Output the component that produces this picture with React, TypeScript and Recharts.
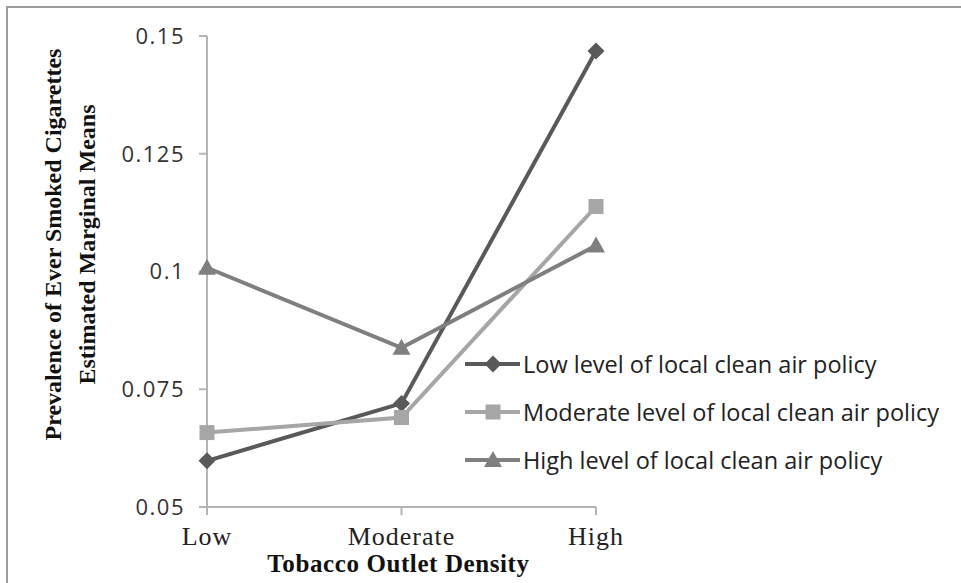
import { LineChart, Line, XAxis, YAxis, Legend, Label } from 'recharts'

const categories = ['Low', 'Moderate', 'High']
const lowPolicy = [0.0598, 0.072, 0.1468]
const moderatePolicy = [0.0658, 0.069, 0.1138]
const highPolicy = [0.1008, 0.0838, 0.1055]
const yTicks = [0.05, 0.075, 0.1, 0.125, 0.15]
const seriesNames = [
  'Low level of local clean air policy',
  'Moderate level of local clean air policy',
  'High level of local clean air policy',
]

const data = categories.map((c, i) => ({
  cat: c,
  low: lowPolicy[i],
  moderate: moderatePolicy[i],
  high: highPolicy[i],
}))

const series = [
  { key: 'low', name: seriesNames[0], color: '#595959', shape: 'diamond' },
  { key: 'moderate', name: seriesNames[1], color: '#a6a6a6', shape: 'square' },
  { key: 'high', name: seriesNames[2], color: '#7f7f7f', shape: 'triangle' },
]

const axisGray = '#b4b4b4'
const sans = '"Open Sans", "DejaVu Sans", sans-serif'
const serif = '"Liberation Serif", "Times New Roman", serif'

function Marker({ shape, cx, cy, color }: { shape: string; cx: number; cy: number; color: string }) {
  if (shape === 'diamond') {
    const r = 8.5
    return <path d={`M${cx},${cy - r}L${cx + r},${cy}L${cx},${cy + r}L${cx - r},${cy}Z`} fill={color} />
  }
  if (shape === 'square') {
    const h = 7.5
    return <rect x={cx - h} y={cy - h} width={h * 2} height={h * 2} fill={color} />
  }
  return <path d={`M${cx},${cy - 9}L${cx + 9},${cy + 7}L${cx - 9},${cy + 7}Z`} fill={color} />
}

const dotFor = (shape: string, color: string) => (props: any) => (
  <Marker key={`${shape}-${props.index}`} shape={shape} cx={props.cx} cy={props.cy} color={color} />
)

function LegendBox({ payload }: any) {
  // keep the series order, not the alphabetical one
  const items = series.filter((s) => (payload || []).some((p: any) => p.value === s.name))
  return (
    <div style={{ fontFamily: sans, fontSize: 23.5, color: '#222' }}>
      {items.map((s) => (
        <div key={s.key} style={{ display: 'flex', alignItems: 'center', height: 48 }}>
          <svg width={60} height={24} style={{ flex: 'none' }}>
            <line x1={2} y1={12} x2={57} y2={12} stroke={s.color} strokeWidth={4} />
            <Marker shape={s.shape} cx={30} cy={12} color={s.color} />
          </svg>
          <span style={{ whiteSpace: 'nowrap' }}>{s.name}</span>
        </div>
      ))}
    </div>
  )
}

function YTitle({ viewBox }: any) {
  const cx = 61
  const cy = viewBox.y + viewBox.height / 2 - 27
  return (
    <text
      transform={`rotate(-90, ${cx}, ${cy})`}
      x={cx}
      y={cy}
      textAnchor="middle"
      fontFamily={serif}
      fontWeight="bold"
      fontSize={24}
      fill="#111"
    >
      <tspan x={cx} y={cy}>Prevalence of Ever Smoked Cigarettes</tspan>
      <tspan x={cx} dy={34}>Estimated Marginal Means</tspan>
    </text>
  )
}

function XTitle({ viewBox }: any) {
  return (
    <text
      x={viewBox.x + viewBox.width / 2 - 3}
      y={viewBox.y + 65}
      textAnchor="middle"
      fontFamily={serif}
      fontWeight="bold"
      fontSize={25}
      letterSpacing={0.6}
      fill="#111"
    >
      Tobacco Outlet Density
    </text>
  )
}

export default function App() {
  return (
    <div style={{ position: 'absolute', left: 0, top: 0, width: 961, height: 583, background: '#fff', overflow: 'hidden' }}>
      <div
        style={{
          position: 'absolute',
          left: 6,
          top: 6,
          width: 1000,
          height: 700,
          borderTop: '2px solid #9c9c9c',
          borderLeft: '2px solid #9c9c9c',
        }}
      />
      <LineChart width={961} height={583} data={data} margin={{ top: 36, right: 365, bottom: 0, left: 20 }}>
        <XAxis
          dataKey="cat"
          height={76}
          padding={{ left: 0, right: 0 }}
          stroke={axisGray}
          strokeWidth={2}
          tickSize={8}
          tickMargin={12}
          tick={{ fontFamily: serif, fontSize: 26, fill: '#222', letterSpacing: 1 }}
        >
          <Label content={<XTitle />} />
        </XAxis>
        <YAxis
          width={187}
          domain={[0.05, 0.15]}
          ticks={yTicks}
          interval={0}
          stroke={axisGray}
          strokeWidth={2}
          tickSize={8}
          tickMargin={14}
          tick={{ fontFamily: sans, fontSize: 22, fill: '#333', letterSpacing: 1.5 }}
        >
          <Label content={<YTitle />} />
        </YAxis>
        <Legend
          verticalAlign="middle"
          align="center"
          layout="horizontal"
          content={<LegendBox />}
          wrapperStyle={{ position: 'absolute', left: 463, top: 340, width: 495 }}
        />
        {series.map((s) => (
          <Line
            key={s.key}
            dataKey={s.key}
            name={s.name}
            type="linear"
            stroke={s.color}
            strokeWidth={4}
            dot={dotFor(s.shape, s.color)}
            activeDot={false}
            isAnimationActive={false}
          />
        ))}
      </LineChart>
    </div>
  )
}
